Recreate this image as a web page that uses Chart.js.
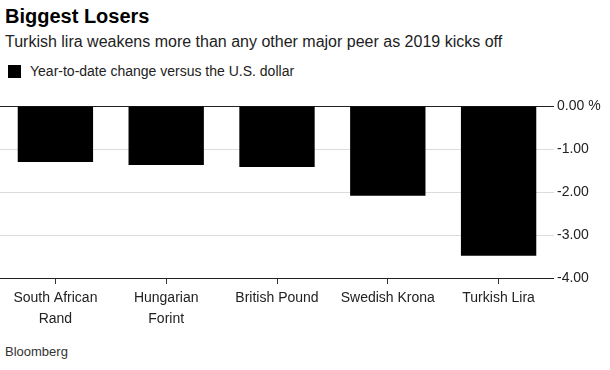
<!DOCTYPE html>
<html>
<head>
<meta charset="utf-8">
<script src="https://cdn.jsdelivr.net/npm/chart.js@4/dist/chart.umd.min.js"></script>
<style>
  html, body { margin: 0; padding: 0; background: #fff; }
  body { width: 610px; height: 370px; position: relative; overflow: hidden; font-family: "Liberation Sans", Arial, sans-serif; }
  #title { position: absolute; left: 5px; top: 5px; font-size: 20px; font-weight: bold; color: #000; }
  #subtitle { position: absolute; left: 5px; top: 33px; font-size: 16px; color: #222; }
  #legend { position: absolute; left: 8px; top: 63px; font-size: 14px; color: #222; }
  #legend .sw { display: inline-block; width: 13px; height: 13px; background: #000; vertical-align: -2px; margin-right: 9px; }
  #source { position: absolute; left: 5px; top: 344px; font-size: 13px; color: #333; }
  #wrap { position: absolute; left: 0; top: 90px; width: 610px; height: 250px; }
</style>
</head>
<body>
<div id="title">Biggest Losers</div>
<div id="subtitle">Turkish lira weakens more than any other major peer as 2019 kicks off</div>
<div id="legend"><span class="sw"></span>Year-to-date change versus the U.S. dollar</div>
<div id="wrap"><canvas id="c" width="610" height="250"></canvas></div>
<div id="source">Bloomberg</div>
<script>
const categories = [["South African", "Rand"], ["Hungarian", "Forint"], "British Pound", "Swedish Krona", "Turkish Lira"];
const seriesLabel = "Year-to-date change versus the U.S. dollar";
const values = [-1.30, -1.37, -1.42, -2.09, -3.48];
const yTicks = [0, -1, -2, -3, -4];

new Chart(document.getElementById('c'), {
  type: 'bar',
  data: {
    labels: categories,
    datasets: [{
      label: seriesLabel,
      data: values,
      backgroundColor: '#000',
      borderWidth: 0,
      barPercentage: 0.68,
      categoryPercentage: 1.0
    }]
  },
  options: {
    responsive: false,
    animation: false,
    devicePixelRatio: 1,
    layout: { padding: { top: 16, left: 0, right: 0, bottom: 0 } },
    plugins: { legend: { display: false }, tooltip: { enabled: false }, title: { display: false } },
    scales: {
      x: {
        offset: true,
        grid: { display: true, drawOnChartArea: false, drawTicks: true, tickLength: 6, offset: false, color: '#333' },
        border: { display: false },
        ticks: { color: '#222', font: { family: 'Liberation Sans', size: 14, lineHeight: 1.5 }, padding: 4, maxRotation: 0, autoSkip: false },
        afterFit: (s) => { s.height = 62; }
      },
      y: {
        position: 'right',
        min: Math.min(...yTicks),
        max: Math.max(...yTicks),
        afterBuildTicks: (s) => { s.ticks = yTicks.map(v => ({ value: v })); },
        grid: {
          drawTicks: false,
          color: (ctx) => (ctx.tick && (ctx.tick.value === 0 || ctx.tick.value === -4)) ? '#222' : '#dcdcdc',
          lineWidth: 1
        },
        border: { display: false },
        ticks: {
          color: '#222',
          padding: 3,
          font: { family: 'Liberation Sans', size: 14 },
          callback: (v) => v === 0 ? '0.00 %' : Number(v).toFixed(2)
        },
        afterFit: (s) => { s.width = 56; }
      }
    }
  }
});
</script>
</body>
</html>
